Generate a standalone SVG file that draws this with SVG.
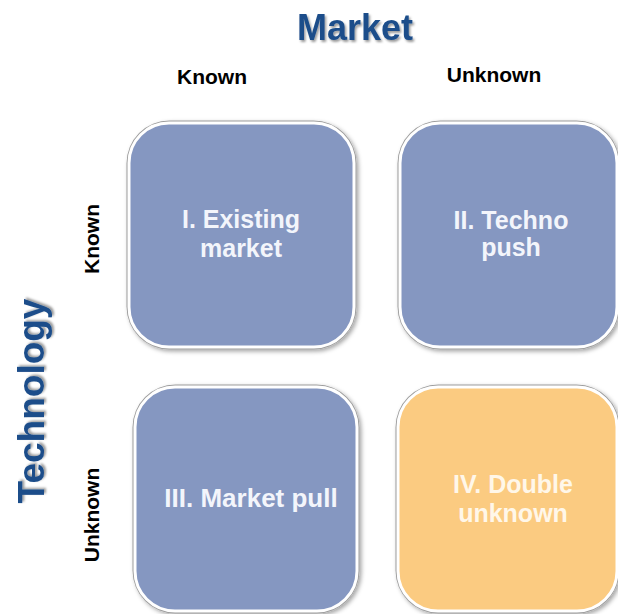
<svg xmlns="http://www.w3.org/2000/svg" width="618" height="614" viewBox="0 0 618 614">
  <defs>
    <filter id="shadow" x="-10%" y="-10%" width="125%" height="125%">
      <feDropShadow dx="2" dy="2" stdDeviation="2" flood-color="#000" flood-opacity="0.35"/>
    </filter>
    <filter id="tshadow" x="-10%" y="-20%" width="125%" height="150%">
      <feDropShadow dx="1.5" dy="2" stdDeviation="1.2" flood-color="#000" flood-opacity="0.4"/>
    </filter>
  </defs>
  <style>
    .ring { fill: #9c9c9c; filter: url(#shadow); }
    .blue { fill: #8597c1; stroke: #ffffff; stroke-width: 3; }
    .orange { fill: #fbcb81; stroke: #ffffff; stroke-width: 3; }
    .title { font-family: "Liberation Sans", Arial, sans-serif; font-weight: bold; font-size: 36px; fill: #1d4e8a; text-anchor: middle; filter: url(#tshadow); }
    .axis { font-family: "Liberation Sans", Arial, sans-serif; font-weight: bold; font-size: 21px; fill: #000; text-anchor: middle; }
    .lbl { font-family: "Liberation Sans", Arial, sans-serif; font-weight: bold; font-size: 25px; fill: #f3f5fb; text-anchor: middle; }
    .lbl4 { font-family: "Liberation Sans", Arial, sans-serif; font-weight: bold; font-size: 25px; fill: #fff7e9; text-anchor: middle; }
  </style>

  <g id="title-market">
    <text class="title" x="355" y="40">Market</text>
  </g>
  <g id="title-technology">
    <text class="title" transform="translate(44,401) rotate(-90)" style="font-size:37px">Technology</text>
  </g>
  <g id="axis-labels">
    <text class="axis" x="212" y="84">Known</text>
    <text class="axis" x="494" y="82">Unknown</text>
    <text class="axis" transform="translate(99,239) rotate(-90)">Known</text>
    <text class="axis" transform="translate(99,515) rotate(-90)">Unknown</text>
  </g>

  <g id="node-1">
    <rect class="ring" x="126.5" y="120.5" width="230" height="229" rx="43"/>
    <rect class="blue" x="129" y="123" width="225" height="224" rx="40"/>
    <text class="lbl" x="241" y="228">I. Existing</text>
    <text class="lbl" x="241" y="257">market</text>
  </g>
  <g id="node-2">
    <rect class="ring" x="397.5" y="120.5" width="222" height="229" rx="43"/>
    <rect class="blue" x="400" y="123" width="217" height="224" rx="40"/>
    <text class="lbl" x="511" y="229">II. Techno</text>
    <text class="lbl" x="511" y="256">push</text>
  </g>
  <g id="node-3">
    <rect class="ring" x="132.5" y="384.5" width="227" height="229" rx="43"/>
    <rect class="blue" x="135" y="387" width="222" height="224" rx="40"/>
    <text class="lbl" x="251" y="507" style="font-size:26px">III. Market pull</text>
  </g>
  <g id="node-4">
    <rect class="ring" x="395.5" y="384.5" width="224" height="229" rx="43"/>
    <rect class="orange" x="398" y="387" width="219" height="224" rx="40"/>
    <text class="lbl4" x="513" y="493">IV. Double</text>
    <text class="lbl4" x="513" y="522">unknown</text>
  </g>
  <g id="connectors"/>
</svg>
